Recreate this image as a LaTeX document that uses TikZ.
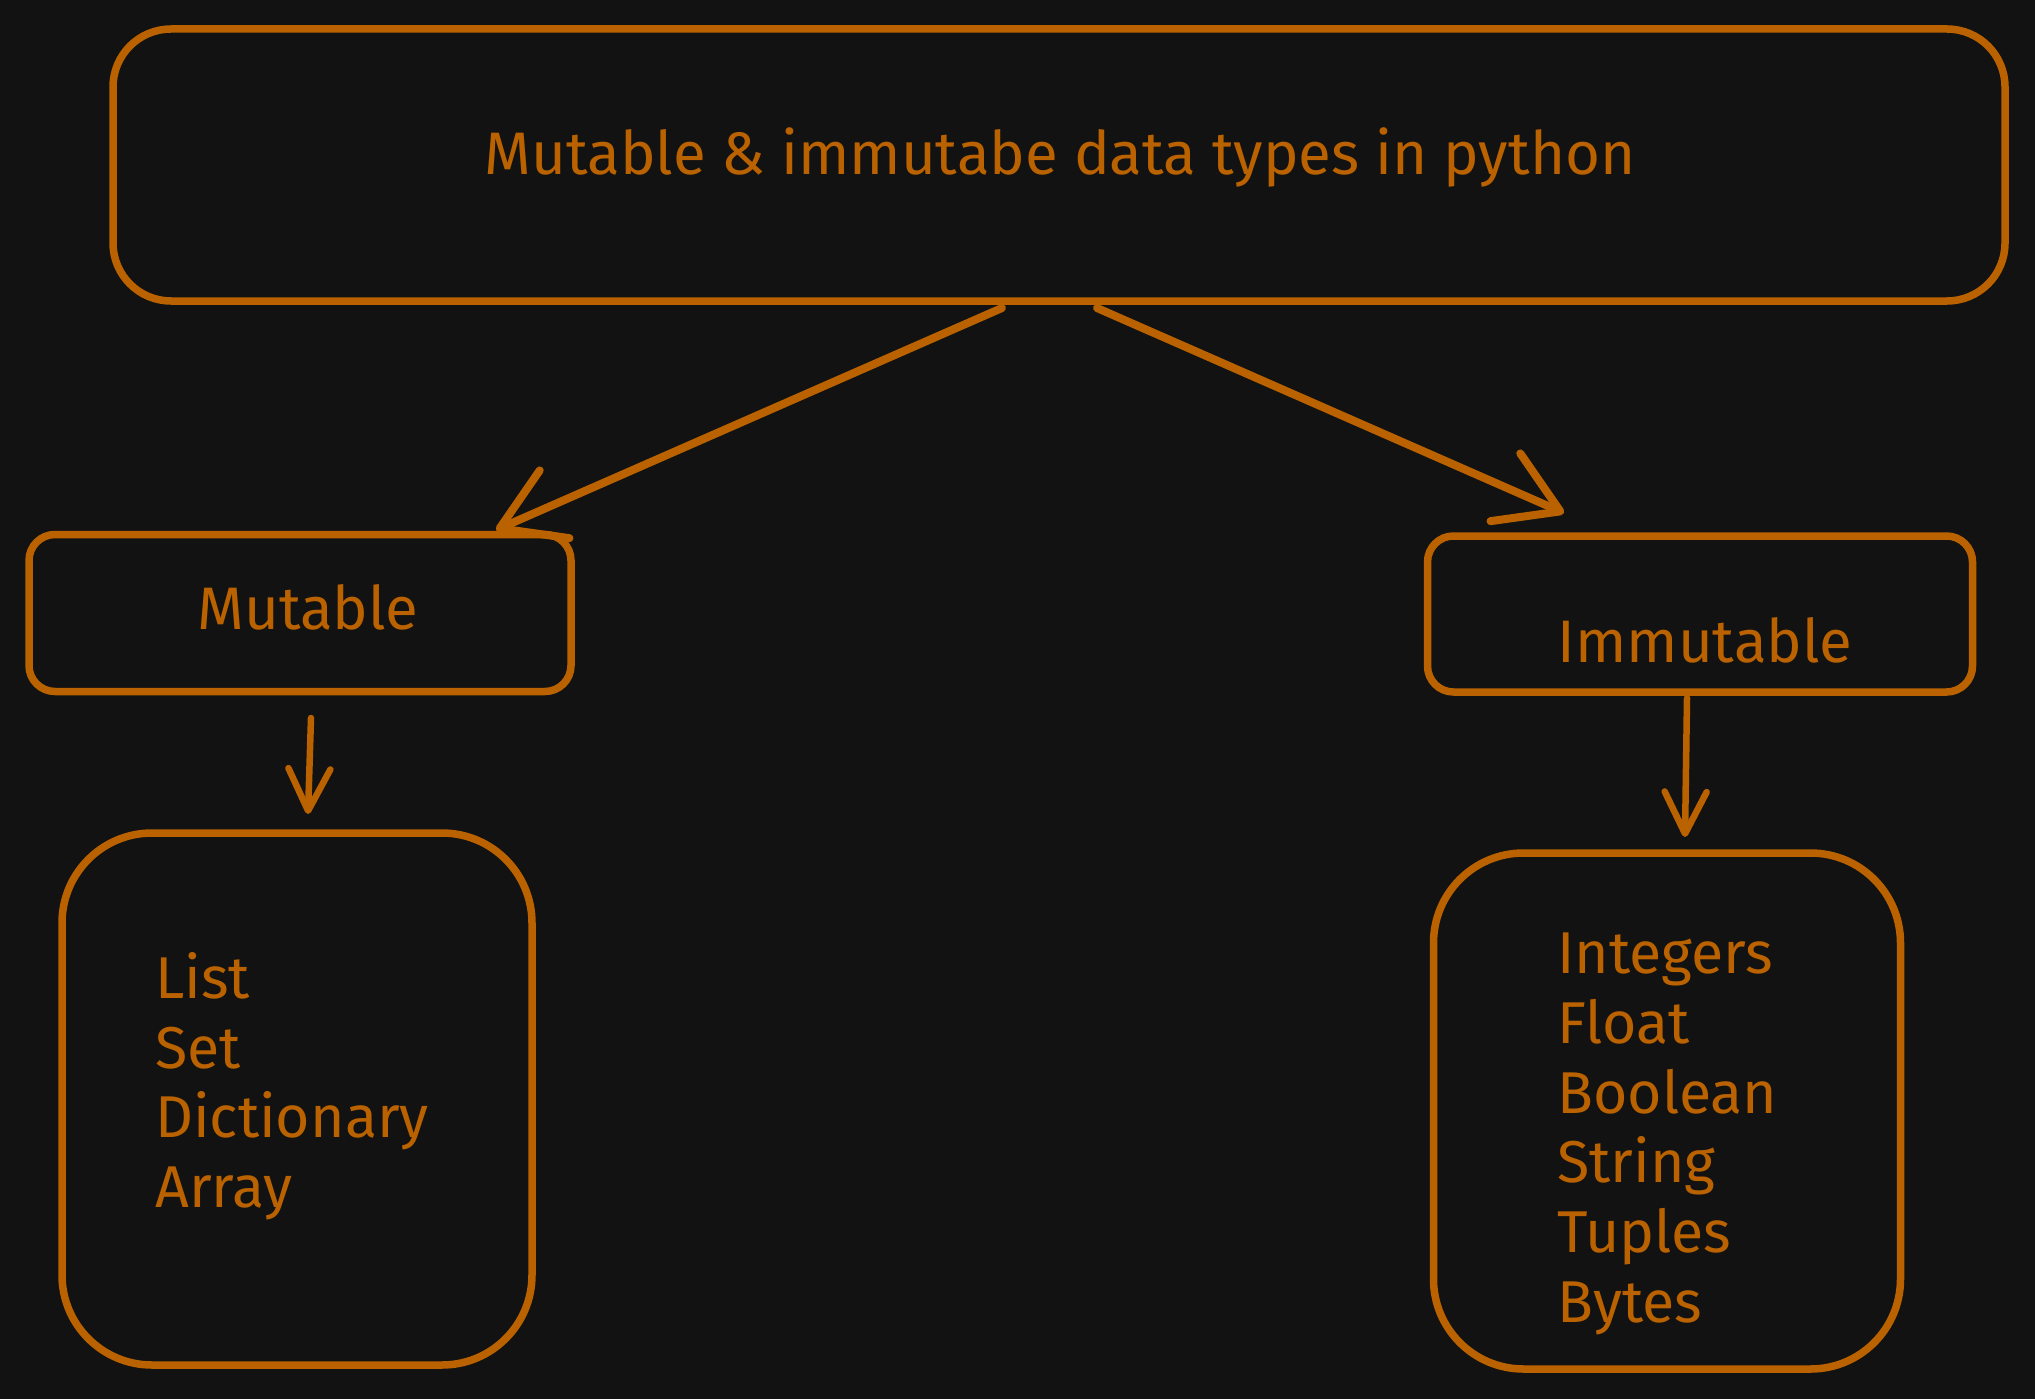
\documentclass[tikz,border=0pt]{standalone}
\usepackage{fontspec}
\setmainfont{Fira Sans}
\usetikzlibrary{arrows.meta}
\definecolor{bg}{HTML}{121212}
\definecolor{ink}{HTML}{BA6200}
\begin{document}
\begin{tikzpicture}[x=1pt,y=-1pt,
  box/.style={draw=ink, line width=7.5pt, inner sep=0pt},
  lbl/.style={text=ink, inner sep=0pt},
  bigarr/.style={draw=ink, line width=8pt, line cap=round,
    -{Straight Barb[length=60pt, width=74pt, line cap=round, line join=round]}},
  smallarr/.style={draw=ink, line width=6.5pt, line cap=round,
    -{Straight Barb[length=42pt, width=42pt, line cap=round, line join=round]}}]
\fill[bg] (0,0) rectangle (2035,1399);
\useasboundingbox (0,0) rectangle (2035,1399);
% boxes
\node[box, rounded corners=58pt, minimum width=1892pt, minimum height=272pt] (top) at (1059,165) {};
\node[box, rounded corners=26pt, minimum width=542pt, minimum height=157pt] (mut) at (300,613) {};
\node[box, rounded corners=26pt, minimum width=545pt, minimum height=156pt] (imm) at (1700,614) {};
\node[box, rounded corners=90pt, minimum width=470pt, minimum height=532pt] (bl) at (297,1099) {};
\node[box, rounded corners=90pt, minimum width=467pt, minimum height=516pt] (br) at (1667,1111) {};
% labels
\node[lbl, font=\fontsize{60}{70}\selectfont, anchor=base] (title) at (1060,175) {Mutable \& immutabe data types in python};
\node[lbl, font=\fontsize{60}{70}\selectfont, anchor=base] (mutl) at (308,629) {Mutable};
\node[lbl, font=\fontsize{60}{70}\selectfont, anchor=base] (imml) at (1705,662) {Immutable};
\tikzset{item/.style={lbl, font=\fontsize{59}{70}\selectfont, anchor=base west}}
\node[item] (l1) at (155,998) {List};
\node[item] (l2) at (155,1068) {Set};
\node[item] (l3) at (155,1137) {Dictionary};
\node[item] (l4) at (155,1207) {Array};
\node[item] (r1) at (1557,973) {Integers};
\node[item] (r2) at (1557,1043) {Float};
\node[item] (r3) at (1557,1113) {Boolean};
\node[item] (r4) at (1557,1182) {String};
\node[item] (r5) at (1557,1252) {Tuples};
\node[item] (r6) at (1557,1322) {Bytes};
% connectors
\coordinate (a1s) at (1002,308);
\coordinate (a1e) at (496,530);
\coordinate (a2s) at (1097,308);
\coordinate (a2e) at (1564,513);
\coordinate (a3s) at (311,718);
\coordinate (a3e) at (308,814);
\coordinate (a4s) at (1687,698);
\coordinate (a4e) at (1685,837);
\draw[bigarr] (a1s) -- (a1e);
\draw[bigarr] (a2s) -- (a2e);
\draw[smallarr] (a3s) -- (a3e);
\draw[smallarr] (a4s) -- (a4e);
\end{tikzpicture}
\end{document}
